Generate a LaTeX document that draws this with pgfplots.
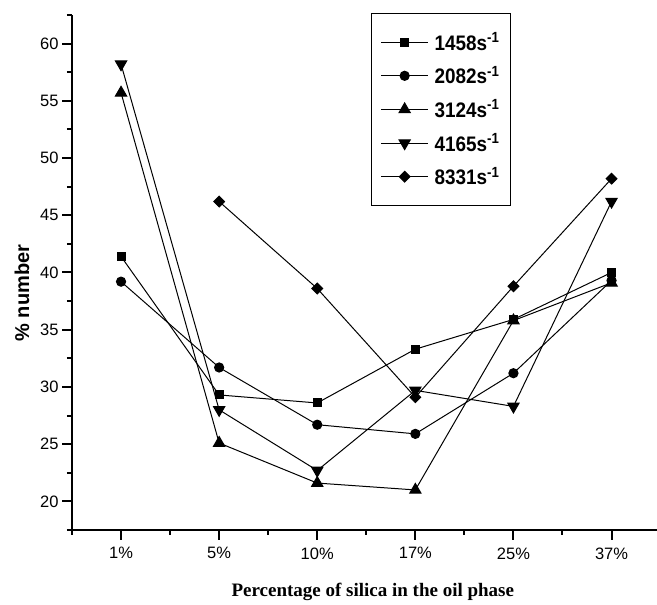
\documentclass[border=0pt]{standalone}
\usepackage{fontspec}
\setmainfont{Liberation Sans}
\newfontfamily\serifbold{Liberation Serif}
\newfontfamily\legfont{Liberation Sans}[FakeStretch=0.9]
\usepackage{pgfplots}
\pgfplotsset{compat=1.18}
\begin{document}
\begin{tikzpicture}[x=1pt,y=1pt]
\path[use as bounding box] (0,0) rectangle (657,605);
\begin{axis}[
  at={(72pt,75pt)}, anchor=south west,
  scale only axis, width=588.6pt, height=515pt,
  xmin=0.5, xmax=6.5, ymin=17.5, ymax=62.5,
  axis x line*=bottom, axis y line*=left,
  axis line style={line width=2pt, -},
  xtick={1,...,6}, xticklabels={1\%,5\%,10\%,17\%,25\%,37\%},
  minor xtick={0.5,1.5,...,6.5},
  ytick={20,25,...,60}, minor ytick={17.5,22.5,...,62.5},
  tick align=outside,
  major tick length=10pt, minor tick length=5pt,
  tick style={line width=2pt, black},
  tick label style={font=\fontsize{16.5}{18}\selectfont},
  xticklabel style={yshift=-4pt},
  /pgf/number format/assume math mode=true,
  xlabel={Percentage of silica in the oil phase},
  xlabel style={font=\fontsize{19}{22}\selectfont\serifbold\bfseries, at={(axis description cs:0.511,-0.120)}, anchor=center},
  ylabel={\% number},
  ylabel style={font=\bfseries\fontsize{20}{22}\selectfont, at={(axis description cs:-0.085,0.46)}, anchor=center},
  legend style={at={(rel axis cs:0.508,1.004)}, anchor=north west, draw=black, line width=1.3pt,
    font=\legfont\bfseries\fontsize{21}{23}\selectfont, inner xsep=9pt, inner ysep=17pt, row sep=10.5pt,
    column sep=4pt, cells={anchor=west}},
  legend image code/.code={\draw[mark repeat=2,mark phase=2,#1] plot coordinates {(0pt,0pt) (23.5pt,0pt) (47pt,0pt)};},
]
\addplot[black, line width=1pt, mark=square*, mark size=4pt, mark options={solid}] coordinates {
  (1,41.4) (2,29.3) (3,28.6) (4,33.3) (5,35.9) (6,40.0)};
\addlegendentry{1458s\textsuperscript{-1}}
\addplot[black, line width=1pt, mark=*, mark size=4.6pt, mark options={solid}] coordinates {
  (1,39.2) (2,31.7) (3,26.7) (4,25.9) (5,31.2) (6,39.3)};
\addlegendentry{2082s\textsuperscript{-1}}
\addplot[black, line width=1pt, mark=triangle*, mark size=6.5pt, mark options={solid}] coordinates {
  (1,55.7) (2,25.1) (3,21.6) (4,21.0) (5,35.8) (6,39.1)};
\addlegendentry{3124s\textsuperscript{-1}}
\addplot[black, line width=1pt, mark=triangle*, mark size=6.5pt, mark options={solid, rotate=180}] coordinates {
  (1,58.2) (2,28.0) (3,22.7) (4,29.7) (5,28.3) (6,46.2)};
\addlegendentry{4165s\textsuperscript{-1}}
\addplot[black, line width=1pt, mark=square*, mark size=3.8pt, mark options={solid, rotate=45}] coordinates {
  (2,46.2) (3,38.6) (4,29.1) (5,38.8) (6,48.2)};
\addlegendentry{8331s\textsuperscript{-1}}
\end{axis}
\end{tikzpicture}
\end{document}
